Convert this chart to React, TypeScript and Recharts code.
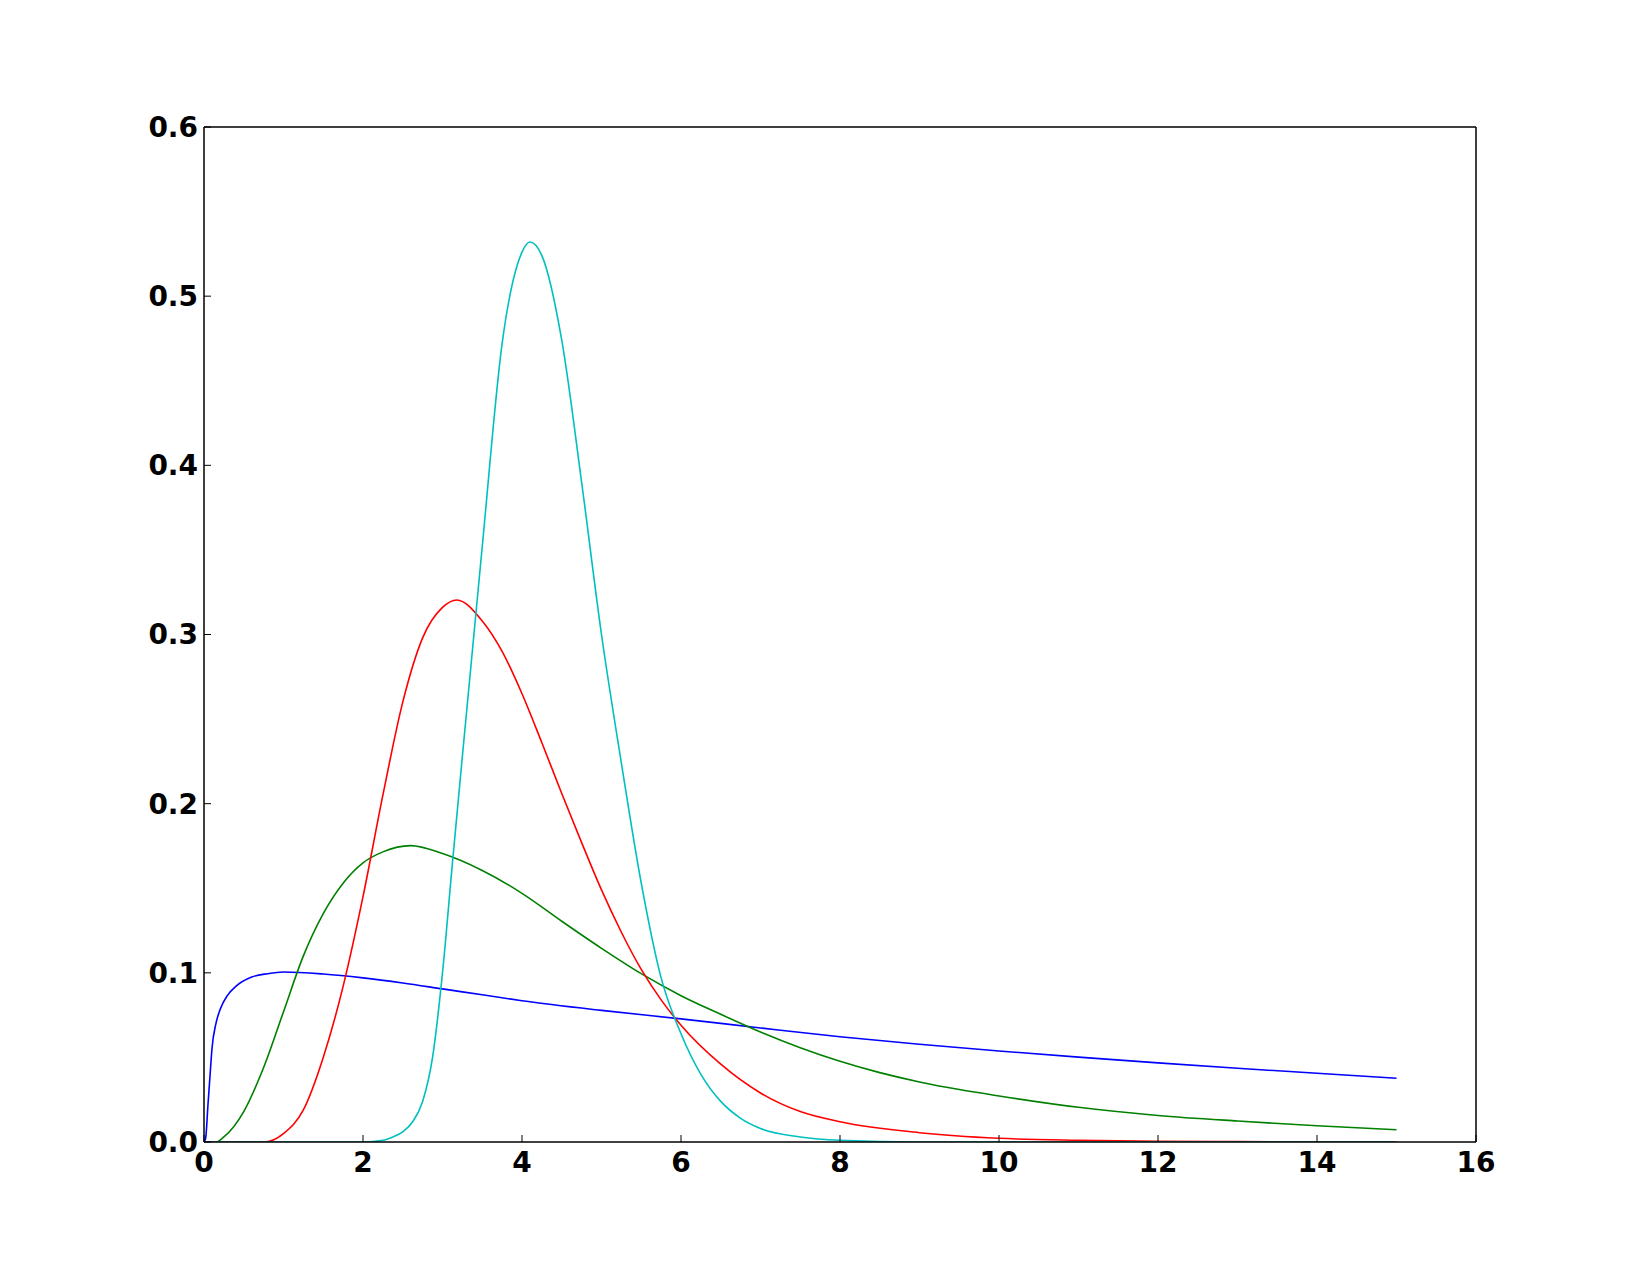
import { LineChart, Line, XAxis, YAxis } from 'recharts';

// values, one small table per curve
const blueX = [0, 0.02, 0.05, 0.08, 0.1, 0.15, 0.2, 0.3, 0.4, 0.6, 0.8, 1, 1.5, 2, 2.5, 3, 3.5, 4, 5, 6, 7, 8, 9, 10, 11, 12, 13, 14, 15];
const blueY = [0, 0.002, 0.022, 0.042, 0.055, 0.07, 0.078, 0.087, 0.092, 0.0975, 0.0995, 0.1005, 0.0993, 0.097, 0.094, 0.0905, 0.087, 0.0835, 0.0778, 0.0728, 0.0674, 0.0622, 0.0578, 0.0538, 0.0502, 0.0468, 0.0436, 0.0406, 0.0377];

const greenX = [0, 0.15, 0.25, 0.5, 0.75, 1, 1.25, 1.5, 1.75, 2, 2.25, 2.6, 3, 3.5, 4, 4.5, 5, 5.5, 6, 6.5, 7, 7.5, 8, 8.5, 9, 9.5, 10, 11, 12, 13, 14, 15];
const greenY = [0, 0, 0.003, 0.018, 0.044, 0.077, 0.11, 0.135, 0.153, 0.165, 0.1715, 0.1752, 0.1705, 0.1605, 0.147, 0.1305, 0.1145, 0.0995, 0.0865, 0.0755, 0.065, 0.0557, 0.0477, 0.041, 0.0355, 0.031, 0.0272, 0.0205, 0.0157, 0.0124, 0.0096, 0.0072];

const redX = [0, 0.75, 1, 1.25, 1.5, 1.75, 2, 2.25, 2.5, 2.75, 3, 3.18, 3.5, 3.75, 4, 4.25, 4.5, 4.75, 5, 5.25, 5.5, 5.75, 6, 6.5, 7, 7.5, 8, 9, 10, 11, 12, 13, 14, 15];
const redY = [0, 0, 0.005, 0.019, 0.05, 0.092, 0.145, 0.205, 0.26, 0.298, 0.316, 0.3204, 0.308, 0.29, 0.265, 0.236, 0.206, 0.177, 0.149, 0.124, 0.102, 0.084, 0.069, 0.046, 0.029, 0.018, 0.012, 0.0055, 0.0022, 0.001, 0.0004, 0.0002, 0.0001, 0];

const cyanX = [0, 2, 2.25, 2.375, 2.5, 2.625, 2.75, 2.875, 3, 3.125, 3.25, 3.5, 3.75, 4, 4.1, 4.25, 4.5, 4.75, 5, 5.25, 5.5, 5.75, 6, 6.25, 6.5, 6.75, 7, 7.5, 8, 9, 10, 11, 12, 13, 14, 15];
const cyanY = [0, 0, 0.001, 0.003, 0.006, 0.012, 0.024, 0.05, 0.1, 0.165, 0.228, 0.352, 0.472, 0.526, 0.532, 0.524, 0.474, 0.39, 0.3, 0.224, 0.153, 0.097, 0.064, 0.04, 0.024, 0.014, 0.008, 0.003, 0.001, 0, 0, 0, 0, 0, 0, 0];

const xTicks = [0, 2, 4, 6, 8, 10, 12, 14, 16];
const yTicks = [0, 0.1, 0.2, 0.3, 0.4, 0.5, 0.6];

const toRows = (xs: number[], ys: number[]) => xs.map((x, i) => ({ x, y: ys[i] }));

const series = [
  { name: 'blue', color: '#0000ff', data: toRows(blueX, blueY) },
  { name: 'green', color: '#008000', data: toRows(greenX, greenY) },
  { name: 'red', color: '#ff0000', data: toRows(redX, redY) },
  { name: 'cyan', color: '#00bfbf', data: toRows(cyanX, cyanY) },
];

const tickFont = { fontFamily: 'DejaVu Sans', fontWeight: 'bold' as const, fontSize: 28, fill: '#000' };
const axisLine = { stroke: '#000', strokeWidth: 1.5 };
const tickLine = { stroke: '#000', strokeWidth: 1 };
const noLabel = () => <g />;

export default function App() {
  return (
    <div style={{ position: 'absolute', left: 0, top: 0, background: '#fff' }}>
      <LineChart
        width={1639}
        height={1270}
        margin={{ top: 126, right: 162, bottom: 48, left: 124 }}
      >
        <XAxis
          xAxisId="b"
          type="number"
          dataKey="x"
          domain={[0, 16]}
          ticks={xTicks}
          allowDataOverflow
          height={80}
          tickSize={-7}
          tickMargin={17}
          tick={tickFont}
          axisLine={axisLine}
          tickLine={tickLine}
        />
        <XAxis
          xAxisId="t"
          orientation="top"
          type="number"
          dataKey="x"
          domain={[0, 16]}
          ticks={xTicks}
          height={1}
          tickSize={-7}
          tick={noLabel}
          axisLine={axisLine}
          tickLine={tickLine}
        />
        <YAxis
          yAxisId="l"
          type="number"
          domain={[0, 0.6]}
          ticks={yTicks}
          allowDataOverflow
          width={80}
          tickSize={-7}
          tickMargin={13}
          tickFormatter={(v: number) => v.toFixed(1)}
          tick={tickFont}
          axisLine={axisLine}
          tickLine={tickLine}
        />
        <YAxis
          yAxisId="r"
          orientation="right"
          type="number"
          domain={[0, 0.6]}
          ticks={yTicks}
          width={1}
          tickSize={-7}
          tick={noLabel}
          axisLine={axisLine}
          tickLine={tickLine}
        />
        {series.map((s) => (
          <Line
            key={s.name}
            xAxisId="b"
            yAxisId="l"
            data={s.data}
            dataKey="y"
            type="monotone"
            stroke={s.color}
            strokeWidth={1.6}
            dot={false}
            activeDot={false}
            isAnimationActive={false}
          />
        ))}
      </LineChart>
    </div>
  );
}
